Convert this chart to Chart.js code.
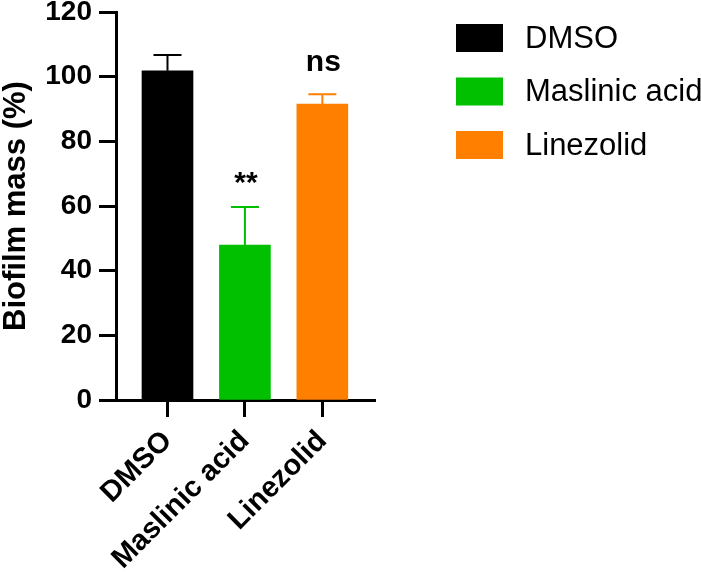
<!DOCTYPE html>
<html>
<head>
<meta charset="utf-8">
<script src="https://cdn.jsdelivr.net/npm/chart.js@4.4.1/dist/chart.umd.min.js"></script>
<style>
  html, body { margin: 0; padding: 0; background: #fff; }
  canvas { display: block; }
</style>
</head>
<body>
<canvas id="biofilmChart" width="701" height="572"></canvas>
<script>
(function () {
    'use strict';

    // values
    var categories = ['DMSO', 'Maslinic acid', 'Linezolid'];
    var means = [101.8, 47.9, 91.5];
    var errors = [4.9, 11.8, 3.1];
    var sigLabels = ['', '**', 'ns'];
    var barColors = ['#000000', '#00c000', '#ff8000'];
    var yTickValues = [0, 20, 40, 60, 80, 100, 120];

    var FONT = '"Liberation Sans", Arial, Helvetica, sans-serif';

    var points = categories.map(function (c, i) {
        return { x: i + 1, y: means[i] };
    });

    // one-sided SEM bars plus significance marks
    var errorBarPlugin = {
        id: 'errorBars',
        afterDatasetsDraw: function (chart) {
            var ctx = chart.ctx;
            var yScale = chart.scales.y;
            var meta = chart.getDatasetMeta(0);
            ctx.save();
            meta.data.forEach(function (bar, i) {
                var top = yScale.getPixelForValue(means[i]);
                var cap = yScale.getPixelForValue(means[i] + errors[i]);
                ctx.strokeStyle = barColors[i];
                ctx.lineWidth = 2;
                ctx.beginPath();
                ctx.moveTo(bar.x, top);
                ctx.lineTo(bar.x, cap);
                ctx.moveTo(bar.x - 14, cap);
                ctx.lineTo(bar.x + 14, cap);
                ctx.stroke();

                if (sigLabels[i]) {
                    ctx.font = 'bold 30px ' + FONT;
                    ctx.fillStyle = '#000';
                    ctx.textAlign = 'center';
                    ctx.textBaseline = 'alphabetic';
                    var m = ctx.measureText(sigLabels[i]);
                    ctx.fillText(sigLabels[i], bar.x + 1, cap - 23 - m.actualBoundingBoxDescent);
                }
            });
            ctx.restore();
        }
    };

    var legendPlugin = {
        id: 'sideLegend',
        afterDraw: function (chart) {
            var ctx = chart.ctx;
            ctx.save();
            ctx.font = '31px ' + FONT;
            ctx.textAlign = 'left';
            ctx.textBaseline = 'middle';
            categories.forEach(function (name, i) {
                var top = 24 + i * 53.5;
                ctx.fillStyle = barColors[i];
                ctx.fillRect(456, top, 47, 28);
                ctx.fillStyle = '#000';
                ctx.fillText(name, 525, top + 15);
            });
            ctx.restore();
        }
    };

    new Chart(document.getElementById('biofilmChart'), {
        type: 'bar',
        data: {
            datasets: [{
                data: points,
                backgroundColor: barColors,
                borderWidth: 0,
                barThickness: 51
            }]
        },
        options: {
            responsive: false,
            animation: false,
            layout: { padding: { top: 12, right: 326, bottom: 0, left: 0 } },
            plugins: {
                legend: { display: false },
                tooltip: { enabled: false }
            },
            scales: {
                x: {
                    type: 'linear',
                    min: 0.335,
                    max: 3.68,
                    offset: false,
                    afterBuildTicks: function (scale) {
                        scale.ticks = categories.map(function (c, i) { return { value: i + 1 }; });
                    },
                    afterFit: function (scale) {
                        scale.height = 172;
                        scale.paddingLeft = 0;
                        scale.paddingRight = 0;
                    },
                    ticks: {
                        autoSkip: false,
                        minRotation: 45,
                        maxRotation: 45,
                        padding: 7,
                        color: '#000',
                        font: { family: FONT, size: 29, weight: 'bold' },
                        callback: function (value) { return categories[value - 1]; }
                    },
                    grid: {
                        offset: false,
                        drawOnChartArea: false,
                        drawTicks: true,
                        tickLength: 17,
                        tickWidth: 3,
                        tickColor: '#000'
                    },
                    border: { display: true, width: 3, color: '#000' }
                },
                y: {
                    min: 0,
                    max: 120,
                    afterBuildTicks: function (scale) {
                        scale.ticks = yTickValues.map(function (v) { return { value: v }; });
                    },
                    afterFit: function (scale) {
                        scale.width = 116;
                        scale.paddingTop = 0;
                        scale.paddingBottom = 0;
                    },
                    ticks: {
                        padding: 7,
                        color: '#000',
                        font: { family: FONT, size: 28, weight: 'bold' }
                    },
                    grid: {
                        drawOnChartArea: false,
                        drawTicks: true,
                        tickLength: 17,
                        tickWidth: 3,
                        tickColor: '#000'
                    },
                    border: { display: true, width: 3, color: '#000' },
                    title: {
                        display: true,
                        text: 'Biofilm mass (%)',
                        color: '#000',
                        padding: { top: 1, bottom: 0 },
                        font: { family: FONT, size: 31, weight: 'bold', lineHeight: 1 }
                    }
                }
            }
        },
        plugins: [errorBarPlugin, legendPlugin]
    });
})();
</script>
</body>
</html>
